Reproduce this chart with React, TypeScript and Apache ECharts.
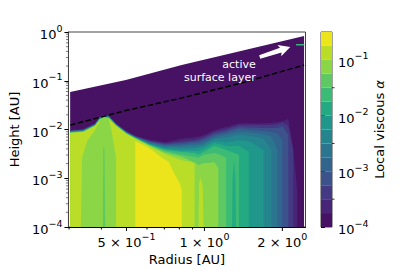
import React, { useEffect, useRef } from "react";
import * as echarts from "echarts";

const FONT = "DejaVu Sans";

// Radius samples [AU]
const radii = [0.303,0.340,0.378,0.394,0.409,0.427,0.456,0.500,0.541,0.612,0.704,0.817,0.916,0.949,0.992,1.092,1.131,1.213,1.360,1.484,1.693,1.816,1.915,2.000,2.108,2.202,2.282];

// log10(height) of the top of each alpha level, per radius sample
const level1 = [-2.01,-1.99,-1.87,-1.74,-1.70,-1.71,-1.87,-2.03,-2.13,-2.21,-2.26,-2.19,-2.16,-2.15,-2.12,-2.02,-1.99,-1.95,-1.87,-1.87,-1.87,-1.86,-1.85,-1.83,-1.78,-2.38,-3.24];
const level2 = [-2.02,-2.00,-1.88,-1.75,-1.71,-1.72,-1.88,-2.04,-2.14,-2.23,-2.28,-2.24,-2.21,-2.19,-2.16,-2.05,-2.03,-1.99,-1.91,-1.91,-1.91,-1.91,-1.89,-1.85,-1.93,-2.42,null];
const level3 = [-2.025,-2.005,-1.885,-1.755,-1.715,-1.725,-1.885,-2.045,-2.145,-2.24,-2.30,-2.27,-2.24,-2.23,-2.19,-2.09,-2.07,-2.03,-1.95,-1.96,-1.97,-1.97,-1.97,-1.93,-2.11,null,null];
const level4 = [-2.03,-2.01,-1.89,-1.76,-1.72,-1.73,-1.89,-2.05,-2.15,-2.25,-2.32,-2.30,-2.27,-2.26,-2.23,-2.13,-2.11,-2.07,-1.99,-2.01,-2.03,-2.05,-2.09,-2.22,null,null,null];
const level5 = [-2.035,-2.015,-1.895,-1.765,-1.725,-1.735,-1.895,-2.055,-2.155,-2.26,-2.34,-2.33,-2.31,-2.30,-2.27,-2.17,-2.15,-2.11,-2.05,-2.06,-2.09,-2.15,-2.42,null,null,null,null];
const level6 = [-2.04,-2.02,-1.90,-1.77,-1.73,-1.74,-1.90,-2.06,-2.16,-2.28,-2.36,-2.36,-2.35,-2.34,-2.31,-2.19,-2.18,-2.17,-2.11,-2.13,-2.19,-2.42,null,null,null,null,null];
const level7 = [-2.045,-2.025,-1.905,-1.775,-1.735,-1.745,-1.905,-2.065,-2.165,-2.29,-2.38,-2.40,-2.39,-2.38,-2.35,-2.24,-2.24,-2.26,-2.22,-2.24,-2.42,null,null,null,null,null,null];
const level8 = [-2.05,-2.03,-1.91,-1.78,-1.74,-1.75,-1.91,-2.07,-2.17,-2.30,-2.40,-2.44,-2.44,-2.44,-2.40,-2.28,-2.29,-2.34,-2.34,-2.46,null,null,null,null,null,null,null];
const level9 = [-2.055,-2.035,-1.915,-1.785,-1.745,-1.755,-1.915,-2.075,-2.175,-2.31,-2.42,-2.46,-2.48,-2.52,-2.46,-2.34,-2.36,-2.42,-2.52,null,null,null,null,null,null,null,null];
const level10 = [-2.06,-2.04,-1.92,-1.79,-1.75,-1.76,-1.92,-2.08,-2.18,-2.32,-2.44,-2.52,-2.56,-2.58,-2.52,-2.48,-2.50,-2.58,null,null,null,null,null,null,null,null,null];
const level11 = [-2.065,-2.045,-1.925,-1.795,-1.755,-1.765,-1.925,-2.085,-2.185,-2.33,-2.47,-2.56,-2.67,-2.73,-2.69,-2.67,-2.79,null,null,null,null,null,null,null,null,null,null];

// Separate regions, each a [radius, log10 height] outline closed along the bottom
const discTop = [[0.303,-1.23],[0.497,-0.985],[0.817,-0.677],[2.426,-0.08]];
const level8Streak = [[1.278,-4],[1.285,-3.0],[1.301,-2.63],[1.317,-3.0],[1.324,-4]];
const level10Streak = [[0.405,-4],[0.407,-2.42],[0.409,-2.32],[0.411,-2.42],[0.414,-4]];
const level12Left = [[0.303,-2.07],[0.340,-2.05],[0.378,-1.93],[0.394,-1.815],[0.394,-1.84],[0.378,-2.01],[0.352,-2.24],[0.337,-2.58],[0.333,-4]];
const level12Mid = [[0.456,-4],[0.456,-2.58],[0.438,-2.03],[0.427,-1.78],[0.456,-1.93],[0.500,-2.09],[0.541,-2.19],[0.612,-2.34],[0.704,-2.50],[0.817,-2.63],[0.861,-2.65],[0.916,-2.69],[0.916,-4]];
const level12Streak = [[0.949,-4],[0.953,-3.14],[0.963,-2.98],[0.984,-3.14],[0.992,-4]];
const level13 = [[0.541,-4],[0.541,-2.24],[0.612,-2.38],[0.686,-2.58],[0.729,-2.67],[0.769,-2.93],[0.803,-3.10],[0.817,-3.24],[0.817,-4]];

// Colour levels
const levelColors = ["#471164","#482576","#443a83","#3b528b","#32658e","#2b758e","#25858e","#1f978b","#24aa83","#3bbb75","#5ec962","#8bd646","#bade28","#ece51b"];
const levelEdges = [1e-4,1.78e-4,3.16e-4,5.62e-4,1e-3,1.78e-3,3.16e-3,5.62e-3,1e-2,1.78e-2,3.16e-2,5.62e-2,1e-1,1.78e-1,3.16e-1];
const colorbarMinorTicks = [3.16e-4,3.16e-3,3.16e-2];

// Axes
const radiusMajorTicks = [0.5,1,2];
const radiusMinorTicks = [0.3,0.4,0.6,0.7,0.8,0.9];
const heightMinorTicks = [2e-4,3e-4,4e-4,5e-4,6e-4,7e-4,8e-4,9e-4,2e-3,3e-3,4e-3,5e-3,6e-3,7e-3,8e-3,9e-3,2e-2,3e-2,4e-2,5e-2,6e-2,7e-2,8e-2,9e-2,0.2,0.3,0.4,0.5,0.6,0.7,0.8,0.9];
const radiusLabels = ["{b|5 × 10}{s|−1}","{b|1 × 10}{s|0}","{b|2 × 10}{s|0}"];

// Lines and annotation
const boundaryRadius = [0.303,0.497,0.817,1.383,2.426];
const boundaryHeight = [0.0123,0.0245,0.0443,0.0891,0.21];
const tealRadius = [2.26,2.43];
const tealHeight = [0.55,0.55];
const arrowTail = [1.635,0.307];
const arrowTip = [2.146,0.492];
const noteAnchor = [1.578,0.119];
const noteLines = ["active","surface layer"];

const topRows = [level1,level2,level3,level4,level5,level6,level7,level8,level9,level10,level11];
const fromRow = (row: (number|null)[]) => {
  const pts: number[][] = [];
  row.forEach((v, i) => { if (v !== null) pts.push([radii[i], v]); });
  return pts;
};
const regions: { level: number; pts: number[][] }[] = [
  { level: 0, pts: discTop },
  ...topRows.map((row, i) => ({ level: i + 1, pts: fromRow(row) })),
  { level: 8, pts: level8Streak },
  { level: 10, pts: level10Streak },
  { level: 12, pts: level12Left },
  { level: 12, pts: level12Mid },
  { level: 13, pts: level13 },
  { level: 12, pts: level12Streak },
];

const richLabel = {
  b: { fontFamily: FONT, fontSize: 13, color: "#000", verticalAlign: "bottom", lineHeight: 14 },
  s: { fontFamily: FONT, fontSize: 9.5, color: "#000", verticalAlign: "top", lineHeight: 18, padding: [0, 0, 6, 0] },
};
const powerLabel = (v: number) => {
  const e = Math.log10(v);
  if (Math.abs(e - Math.round(e)) > 1e-6) return "";
  const r = Math.round(e);
  return `{b|10}{s|${r < 0 ? "−" + -r : r}}`;
};

export default function App() {
  const ref = useRef<HTMLDivElement>(null);
  useEffect(() => {
    const chart = echarts.init(ref.current!, null, { renderer: "svg" });
    const spine = "#444";
    const option: any = {
      animation: false,
      backgroundColor: "#fff",
      grid: [
        { left: 65.5, top: 32, width: 240, height: 195, show: true, borderColor: spine, borderWidth: 1, backgroundColor: "#fff" },
        { left: 321, top: 32, width: 11, height: 195, show: true, borderColor: spine, borderWidth: 1 },
      ],
      xAxis: [
        {
          type: "log", gridIndex: 0, min: 0.2984, max: 2.457, logBase: 10,
          name: "Radius [AU]", nameLocation: "middle", nameGap: 26,
          nameTextStyle: { fontFamily: FONT, fontSize: 13, color: "#000" },
          axisLine: { show: true, onZero: false, lineStyle: { color: "#000", width: 1 } },
          axisTick: { show: false }, axisLabel: { show: false }, splitLine: { show: false }, minorTick: { show: false },
        },
        { type: "value", gridIndex: 1, min: 0, max: 1, show: false },
      ],
      yAxis: [
        {
          type: "log", gridIndex: 0, min: 1e-4, max: 1, logBase: 10,
          name: "Height [AU]", nameLocation: "middle", nameGap: 43, nameRotate: 90,
          nameTextStyle: { fontFamily: FONT, fontSize: 13, color: "#000" },
          axisLine: { show: true, onZero: false, lineStyle: { color: spine, width: 1 } },
          axisTick: { show: true, length: 4, lineStyle: { color: "#000", width: 1 } },
          axisLabel: { show: true, margin: 6, formatter: powerLabel, rich: richLabel },
          splitLine: { show: false }, minorTick: { show: false },
        },
        {
          type: "log", gridIndex: 1, min: 1e-4, max: 0.316, logBase: 10, position: "right",
          name: "Local viscous {i|α}", nameLocation: "middle", nameGap: 41, nameRotate: 90,
          nameTextStyle: { fontFamily: FONT, fontSize: 13, color: "#000", rich: { i: { fontFamily: FONT, fontSize: 13, fontStyle: "italic", color: "#000" } } },
          axisLine: { show: false },
          axisTick: { show: true, length: 4, lineStyle: { color: "#000", width: 1 } },
          axisLabel: { show: true, margin: 6, formatter: powerLabel, rich: richLabel },
          splitLine: { show: false }, minorTick: { show: false },
        },
      ],
      series: [
        {
          type: "custom", xAxisIndex: 0, yAxisIndex: 0, z: 2, clip: false,
          data: regions.map((r) => [r.pts[0][0], Math.pow(10, r.pts[0][1])]),
          encode: { x: 0, y: 1 },
          renderItem: (p: any, api: any) => {
            const r = regions[p.dataIndex];
            const first = r.pts[0];
            const last = r.pts[r.pts.length - 1];
            const ring = [[first[0], -4], ...r.pts, [last[0], -4]];
            return {
              type: "polygon",
              shape: { points: ring.map(([x, h]) => api.coord([x, Math.pow(10, h)])) },
              style: { fill: levelColors[r.level], stroke: "none" },
            };
          },
        },
        {
          type: "line", xAxisIndex: 0, yAxisIndex: 0, z: 4, showSymbol: false, clip: true,
          data: tealRadius.map((x, i) => [x, tealHeight[i]]),
          lineStyle: { color: "#35b779", width: 1.5 },
        },
        {
          type: "line", xAxisIndex: 0, yAxisIndex: 0, z: 4, showSymbol: false, smooth: false,
          data: boundaryRadius.map((x, i) => [x, boundaryHeight[i]]),
          lineStyle: { color: "#000", width: 1.5, type: [5.5, 2.5] },
        },
        {
          type: "custom", xAxisIndex: 0, yAxisIndex: 0, z: 5, clip: false,
          data: [arrowTail], encode: { x: 0, y: 1 },
          renderItem: (_: any, api: any) => {
            const a = api.coord(arrowTail);
            const b = api.coord(arrowTip);
            const dx = b[0] - a[0], dy = b[1] - a[1];
            const len = Math.hypot(dx, dy);
            const ux = dx / len, uy = dy / len, nx = -uy, ny = ux;
            const at = (along: number, side: number) => [a[0] + ux * along + nx * side, a[1] + uy * along + ny * side];
            const neck = len - 10;
            return {
              type: "group",
              children: [
                {
                  type: "polygon",
                  shape: { points: [at(0, -1.8), at(neck, -2.5), at(neck - 1.5, -6), at(len, 0), at(neck - 1.5, 6), at(neck, 2.5), at(0, 1.8)] },
                  style: { fill: "#fff", stroke: "none" },
                },
                ...noteLines.map((t, i) => {
                  const c = api.coord(noteAnchor);
                  return {
                    type: "text",
                    x: c[0], y: c[1] - 12.5 + i * 12.5,
                    style: { text: t, fontFamily: FONT, fontSize: 11, fill: "#fff", align: "right", verticalAlign: "middle" },
                  };
                }),
              ],
            };
          },
        },
        {
          type: "custom", xAxisIndex: 0, yAxisIndex: 0, z: 6, clip: false,
          data: [...radiusMajorTicks, ...radiusMinorTicks].map((x) => [x, 1e-4]), encode: { x: 0, y: 1 },
          renderItem: (p: any, api: any) => {
            const c = api.coord([api.value(0), 1e-4]);
            const i = p.dataIndex;
            const major = i < radiusMajorTicks.length;
            const children: any[] = [
              { type: "line", shape: { x1: c[0], y1: c[1], x2: c[0], y2: c[1] + (major ? 4 : 2.5) }, style: { stroke: "#000", lineWidth: 1 } },
            ];
            if (major) {
              children.push({
                type: "text", x: c[0], y: c[1] + 4,
                style: { text: radiusLabels[i], rich: richLabel, align: "center", verticalAlign: "top", fontFamily: FONT },
              });
            }
            return { type: "group", children };
          },
        },
        {
          type: "custom", xAxisIndex: 0, yAxisIndex: 0, z: 6, clip: false,
          data: heightMinorTicks.map((h) => [0.2984, h]), encode: { x: 0, y: 1 },
          renderItem: (_: any, api: any) => {
            const c = api.coord([0.2984, api.value(1)]);
            return { type: "line", shape: { x1: c[0], y1: c[1], x2: c[0] - 2.5, y2: c[1] }, style: { stroke: "#444", lineWidth: 0.7 } };
          },
        },
        {
          type: "custom", xAxisIndex: 1, yAxisIndex: 1, z: 2, clip: false,
          data: levelColors.map((_, i) => [0, levelEdges[i]]), encode: { x: 0, y: 1 },
          renderItem: (p: any, api: any) => {
            const a = api.coord([0, levelEdges[p.dataIndex]]);
            const b = api.coord([1, levelEdges[p.dataIndex + 1]]);
            return { type: "rect", shape: { x: a[0], y: b[1], width: b[0] - a[0], height: a[1] - b[1] }, style: { fill: levelColors[p.dataIndex], stroke: "none" } };
          },
        },
        {
          type: "custom", xAxisIndex: 1, yAxisIndex: 1, z: 6, clip: false,
          data: colorbarMinorTicks.map((v) => [1, v]), encode: { x: 0, y: 1 },
          renderItem: (_: any, api: any) => {
            const c = api.coord([1, api.value(1)]);
            return { type: "line", shape: { x1: c[0], y1: c[1], x2: c[0] + 2.5, y2: c[1] }, style: { stroke: "#000", lineWidth: 0.8 } };
          },
        },
      ],
    };
    chart.setOption(option);
    return () => chart.dispose();
  }, []);
  return <div ref={ref} style={{ position: "fixed", left: 0, top: 0, width: 407, height: 271, background: "#fff" }} />;
}
